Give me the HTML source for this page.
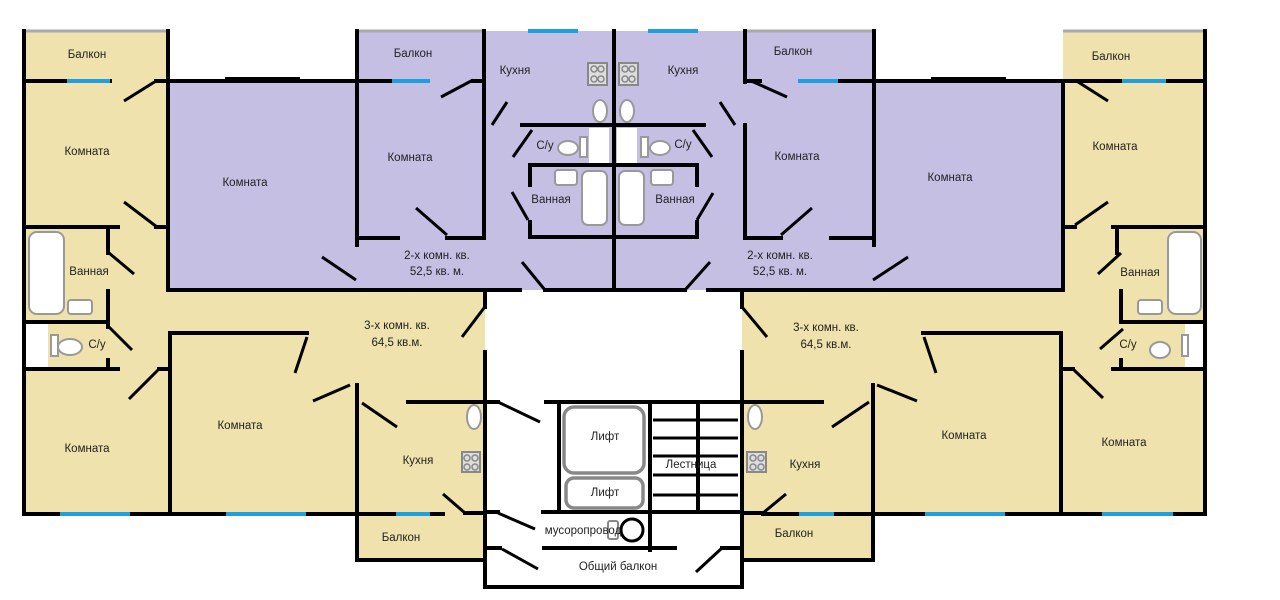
<!DOCTYPE html>
<html><head><meta charset="utf-8"><style>
html,body{margin:0;padding:0;background:#fff;}
svg{display:block;}
text{font-family:"Liberation Sans",sans-serif;font-size:11.5px;fill:#222;text-anchor:middle;dominant-baseline:middle;}
</style></head><body>
<svg width="1280" height="600" viewBox="0 0 1280 600" xmlns="http://www.w3.org/2000/svg">
<!-- fills -->
<polygon points="24,31 168,31 168,290 485,290 485,560 357,560 357,514 24,514" fill="#efe2ad"/>
<polygon points="168,81 357,81 357,31 612,31 612,290 168,290" fill="#c6bfe4"/>
<polygon points="612,31 874,31 874,81 1063,81 1063,290 612,290" fill="#c6bfe4"/>
<polygon points="1063,31 1205,31 1205,514 873,514 873,560 742,560 742,290 1063,290" fill="#efe2ad"/>
<!-- gray tops -->
<g stroke="#aaa" stroke-width="3">
<line x1="24" y1="31" x2="168" y2="31"/><line x1="357" y1="31" x2="484" y2="31"/>
<line x1="745" y1="31" x2="874" y2="31"/><line x1="1063" y1="31" x2="1205" y2="31"/>
</g>
<!-- white boxes -->
<g fill="#fff" stroke="#999" stroke-width="2">
<rect x="25" y="322" width="23" height="46" stroke="none"/>
<rect x="1185" y="322" width="20" height="46" stroke="none"/>
<rect x="589" y="128" width="20" height="35" stroke="none"/>
<rect x="617" y="128" width="20" height="35" stroke="none"/>
<rect x="29" y="232" width="35" height="82" rx="8"/>
<rect x="68" y="300" width="24" height="14" rx="3"/>
<rect x="1168" y="232" width="33" height="82" rx="8"/>
<rect x="1138" y="300" width="24" height="14" rx="3"/>
<rect x="582" y="171" width="25" height="54" rx="6"/>
<rect x="619" y="171" width="25" height="54" rx="6"/>
<rect x="555" y="170" width="22" height="15" rx="3"/>
<rect x="651" y="170" width="22" height="15" rx="3"/>
<ellipse cx="568" cy="148" rx="10" ry="7"/><rect x="580" y="137" width="7" height="20"/>
<ellipse cx="660" cy="148" rx="10" ry="7"/><rect x="641" y="137" width="7" height="20"/>
<ellipse cx="70" cy="347" rx="12" ry="8"/><rect x="51" y="335" width="7" height="21"/>
<ellipse cx="1160" cy="350" rx="10" ry="8"/><rect x="1182" y="335" width="6" height="21"/>
<ellipse cx="600" cy="111" rx="7" ry="11"/><ellipse cx="627" cy="111" rx="7" ry="11"/>
<ellipse cx="474" cy="417" rx="7" ry="12"/><ellipse cx="755" cy="417" rx="7" ry="12"/>
</g>
<!-- stoves -->
<g fill="#ddd" stroke="#888" stroke-width="2">
<rect x="588" y="63" width="19" height="22"/><rect x="619" y="63" width="19" height="22"/>
<rect x="462" y="452" width="18" height="20"/><rect x="747" y="452" width="19" height="20"/>
</g>
<g fill="none" stroke="#888" stroke-width="1.5">
<circle cx="594" cy="69" r="3"/><circle cx="601" cy="69" r="3"/><circle cx="594" cy="79" r="3"/><circle cx="601" cy="79" r="3"/>
<circle cx="625" cy="69" r="3"/><circle cx="632" cy="69" r="3"/><circle cx="625" cy="79" r="3"/><circle cx="632" cy="79" r="3"/>
<circle cx="467" cy="458" r="3"/><circle cx="475" cy="458" r="3"/><circle cx="467" cy="467" r="3"/><circle cx="475" cy="467" r="3"/>
<circle cx="753" cy="458" r="3"/><circle cx="761" cy="458" r="3"/><circle cx="753" cy="467" r="3"/><circle cx="761" cy="467" r="3"/>
</g>
<!-- lifts -->
<g fill="#fff" stroke="#888" stroke-width="3.5">
<rect x="564" y="407" width="80" height="66" rx="10"/>
<rect x="566" y="478" width="77" height="30" rx="8"/>
</g>
<rect x="608" y="521" width="10" height="18" rx="2" fill="#fff" stroke="#888" stroke-width="2"/>
<circle cx="632" cy="530" r="11" fill="none" stroke="#000" stroke-width="3"/>
<!-- walls -->
<g stroke="#000" stroke-width="4" fill="none" stroke-linecap="square">
<path d="M24 31V514"/><path d="M168 31V81"/>
<path d="M24 81H110"/><path d="M156 81H357"/><path d="M228 80H297" stroke-width="6"/>
<path d="M357 31V245"/><path d="M357 81H392"/><path d="M473 81H484"/>
<path d="M484 31V125"/><path d="M484 125V237"/>
<path d="M614 31V290"/>
<path d="M745 31V82"/><path d="M745 125V237"/><path d="M745 81H760"/>
<path d="M838 81H1063"/><path d="M934 80H1003" stroke-width="6"/>
<path d="M874 31V245"/>
<path d="M1063 81V227"/><path d="M1063 227H1075"/><path d="M1063 81H1122"/><path d="M1166 81H1205"/>
<path d="M1205 31V514"/>
<path d="M1113 227H1205"/><path d="M1117 227V253"/><path d="M1121 291V322"/><path d="M1121 360V369"/>
<path d="M1123 322H1205"/><path d="M1113 369H1205"/>
<!-- left -->
<path d="M168 81V290"/><path d="M156 227H168"/><path d="M24 227H118"/>
<path d="M108 227V253"/><path d="M108 291V327"/><path d="M108 360V369"/>
<path d="M24 322H108"/><path d="M24 369H118"/><path d="M159 369H170"/>
<path d="M170 333V514"/><path d="M170 333H307"/>
<path d="M357 385V560"/><path d="M357 560H485"/><path d="M408 402H485"/>
<path d="M24 514H443"/><path d="M465 513H485"/>
<!-- lavender internal -->
<path d="M357 238H398"/><path d="M447 238H484"/>
<path d="M745 238H781"/><path d="M831 238H874"/>
<path d="M522 125H612"/><path d="M617 125H704"/>
<path d="M530 165H612"/><path d="M617 165H697"/>
<path d="M530 165V185"/><path d="M530 222V237"/><path d="M530 237H612"/>
<path d="M697 165V185"/><path d="M697 222V237"/><path d="M617 237H697"/>
<path d="M168 290H520"/><path d="M545 290H685"/><path d="M708 290H1063"/>
<path d="M1063 81V290"/>
<!-- stair -->
<path d="M485 290V307"/><path d="M485 352V587"/>
<path d="M742 290V307"/><path d="M742 352V587"/>
<path d="M485 587H742"/>
<path d="M485 402H498"/><path d="M546 402H740"/>
<path d="M559 402V512"/><path d="M650 402V550"/><path d="M698 402V512"/>
<path d="M485 512H498"/><path d="M543 512H740"/>
<path d="M485 548H500"/><path d="M544 548H675"/><path d="M722 548H740"/>
<!-- right lower -->
<path d="M742 402H822"/><path d="M873 385V560"/><path d="M742 560H873"/>
<path d="M923 333H1061"/><path d="M1061 333V514"/><path d="M1061 369H1073"/>
<path d="M763 514H1205"/><path d="M742 513H763"/>
</g>
<g stroke="#000" stroke-width="3">
<path d="M653 420H738M653 438H738M653 456H738M653 475H738M653 495H738"/>
</g>
<!-- windows -->
<g stroke="#1ea0e0" stroke-width="4">
<path d="M67 81H110"/><path d="M392 81H430"/><path d="M528 31H578"/><path d="M648 31H698"/>
<path d="M798 81H838"/><path d="M1122 81H1166"/>
<path d="M60 514H130"/><path d="M226 514H306"/><path d="M396 514H430"/>
<path d="M799 514H834"/><path d="M925 514H1005"/><path d="M1102 514H1173"/>
</g>
<!-- door leaves -->
<g stroke="#000" stroke-width="3">
<path d="M124 101L156 81"/><path d="M124 202L157 227"/><path d="M109 253L134 274"/>
<path d="M441 97L473 80"/><path d="M492 125L507 102"/><path d="M416 208L447 235"/>
<path d="M322 257L356 280"/><path d="M513 157L532 130"/><path d="M512 192L528 220"/>
<path d="M522 262L545 290"/><path d="M710 262L685 290"/>
<path d="M693 130L712 157"/><path d="M713 193L697 220"/><path d="M720 102L735 125"/>
<path d="M749 80L787 97"/><path d="M781 235L812 208"/><path d="M873 280L908 257"/>
<path d="M1075 80L1108 101"/><path d="M1075 225L1108 202"/><path d="M1098 274L1121 253"/>
<path d="M1100 349L1123 329"/><path d="M1073 369L1103 398"/>
<path d="M109 327L132 350"/><path d="M129 399L159 369"/><path d="M307 337L295 373"/>
<path d="M313 401L350 385"/><path d="M362 403L397 427"/><path d="M443 494L465 513"/>
<path d="M484 308L462 337"/><path d="M498 402L540 422"/><path d="M498 513L535 529"/>
<path d="M502 549L538 569"/><path d="M696 572L722 548"/>
<path d="M742 307L767 337"/><path d="M832 427L869 402"/><path d="M877 385L917 401"/>
<path d="M924 337L936 373"/><path d="M763 513L786 494"/>
</g>
<!-- labels -->
<text x="87" y="55">Балкон</text>
<text x="87" y="152">Комната</text>
<text x="245" y="183">Комната</text>
<text x="413" y="54">Балкон</text>
<text x="410" y="158">Комната</text>
<text x="515" y="71">Кухня</text>
<text x="683" y="71">Кухня</text>
<text x="545" y="146">С/у</text>
<text x="683" y="145">С/у</text>
<text x="551" y="200">Ванная</text>
<text x="675" y="200">Ванная</text>
<text x="437" y="256">2-х комн. кв.</text>
<text x="437" y="272">52,5 кв. м.</text>
<text x="780" y="256">2-х комн. кв.</text>
<text x="780" y="272">52,5 кв. м.</text>
<text x="793" y="52">Балкон</text>
<text x="797" y="157">Комната</text>
<text x="950" y="178">Комната</text>
<text x="1111" y="57">Балкон</text>
<text x="1115" y="147">Комната</text>
<text x="1140" y="273">Ванная</text>
<text x="89" y="272">Ванная</text>
<text x="97" y="345">С/у</text>
<text x="1128" y="345">С/у</text>
<text x="397" y="326">3-х комн. кв.</text>
<text x="397" y="343">64,5 кв.м.</text>
<text x="826" y="328">3-х комн. кв.</text>
<text x="826" y="345">64,5 кв.м.</text>
<text x="240" y="426">Комната</text>
<text x="87" y="449">Комната</text>
<text x="418" y="461">Кухня</text>
<text x="401" y="538">Балкон</text>
<text x="964" y="436">Комната</text>
<text x="1124" y="443">Комната</text>
<text x="805" y="465">Кухня</text>
<text x="794" y="534">Балкон</text>
<text x="605" y="437">Лифт</text>
<text x="605" y="493">Лифт</text>
<text x="691" y="465">Лестница</text>
<text x="583" y="531">мусоропровод</text>
<text x="618" y="567">Общий балкон</text>
</svg>
</body></html>
